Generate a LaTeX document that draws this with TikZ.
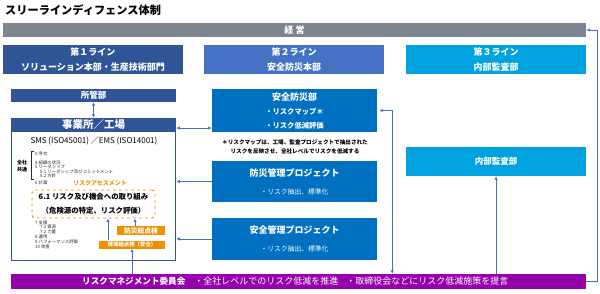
\documentclass[tikz,border=0pt]{standalone}
\usepackage{fontspec}
\setmainfont{Noto Sans CJK JP}
\usetikzlibrary{arrows.meta,positioning,calc}
\definecolor{slate}{RGB}{125,133,145}
\definecolor{navy}{RGB}{47,85,151}
\definecolor{ocean}{RGB}{68,114,196}
\definecolor{deep}{RGB}{0,112,192}
\definecolor{aqua}{RGB}{0,163,224}
\definecolor{amber}{RGB}{237,145,0}
\definecolor{grape}{RGB}{148,0,170}
\definecolor{ink}{RGB}{40,40,40}
\newcommand{\fsz}[2]{\fontsize{#1}{#2}\selectfont}
\tikzset{
  x=1pt,y=-1pt,
  >={Latex[length=3.5pt,width=3.5pt]},
  box/.style={fill=#1,text=white,inner sep=0pt,align=center,font=\fsz{9}{15}\bfseries},
  box/.default=navy,
  chk/.style={fill=amber,text=white,inner sep=0pt,font=\fsz{#1}{#1}\bfseries},
  item/.style={anchor=west,inner sep=0pt,text=ink,font=\fsz{4.4}{5}},
  note/.style={inner sep=0pt,text=black,font=\fsz{5.6}{6}\bfseries},
  link/.style={draw=ocean,line width=0.8pt},
}

\begin{document}
\begin{tikzpicture}
  \useasboundingbox (0,0) rectangle (600,294);
  \node[anchor=west,inner sep=0pt,font=\fsz{11.2}{12}\bfseries] (title) at (5,10) {スリーラインディフェンス体制};

  % top management and the three lines
  \node[box=slate,minimum width=583pt,minimum height=14pt] (keiei) at (294.5,30) {経 営};
  \node[box=navy,minimum width=180pt,minimum height=29pt] (line1) at (93,59.5) {第１ライン\\ソリューション本部・生産技術部門};
  \node[box=ocean,minimum width=180pt,minimum height=29pt] (line2) at (294,59.5) {第２ライン\\安全防災本部};
  \node[box=aqua,minimum width=180pt,minimum height=29pt] (line3) at (496,59.5) {第３ライン\\内部監査部};

  % first line
  \node[box=navy,minimum width=165pt,minimum height=13pt,font=\fsz{8.5}{9}\bfseries] (shokan) at (93.5,95.5) {所管部};
  \node[draw=navy,line width=1.5pt,minimum width=164pt,minimum height=142pt,inner sep=0pt] (site) at (93.5,189.5) {};
  \node[box=navy,minimum width=165pt,minimum height=14pt,font=\fsz{10.5}{11}\bfseries] (sitehead) at (93.5,125) {事業所／工場};
  \node[inner sep=0pt,font=\fsz{8}{9}] (sms) at (94,141) {SMS (ISO45001) ／EMS (ISO14001)};
  \node[inner sep=0pt,align=center,font=\fsz{5}{6.5}\bfseries] (common) at (22,166) {全社\\共通};
  \draw[ink,line width=0.4pt] (34,151.5) -- (31,151.5) -- (31,179.5) -- (34,179.5);
  \foreach \xx/\yy/\t [count=\i] in {35/154/0 序文, 35/163/4 組織の状況, 35/167/5 リーダシップ,
      40/171.5/5.1 リーダシップ及びコミットメント, 40/176/5.2 方針, 35/182.5/6 計画,
      35/222.7/7 支援, 40/227.2/7.1 資源, 40/231.7/7.2 力量, 35/236.7/8 運用,
      35/241.7/9 パフォーマンス評価, 35/246.7/10 改善}
    \node[item] (it\i) at (\xx,\yy) {\t};
  \node[inner sep=0pt,text=amber,font=\fsz{6}{7}\bfseries] (ra) at (100,183) {リスクアセスメント};
  \node[draw=amber,dashed,line width=0.9pt,rounded corners=3pt,minimum width=123pt,minimum height=28pt,
    inner sep=0pt,align=center,font=\fsz{7.4}{14}\bfseries] (risk) at (93.5,204)
    {6.1 リスク及び機会への取り組み\\（危険源の特定、リスク評価）};
  \node[chk=6.8,minimum width=48pt,minimum height=9.5pt] (bcheck) at (141,230.5) {防災総点検};
  \node[chk=5.4,minimum width=66pt,minimum height=8pt] (gcheck) at (132,244.5) {現場総点検（安全）};

  % second line
  \node[box=deep,minimum width=165pt,minimum height=43pt,font=\fsz{7.3}{14}\bfseries] (anzen) at (294.5,110.5)
    {{\fsz{9}{14}安全防災部}\\・リスクマップ＊\\・リスク低減評価};
  \node[note] (note1) at (295,142.5) {＊リスクマップは、工場、監査プロジェクトで抽出された};
  \node[note] (note2) at (295,151) {リスクを反映させ、全社レベルでリスクを低減する};
  \node[box=deep,minimum width=165pt,minimum height=41pt,font=\fsz{6.8}{18}] (bpj) at (294.5,181.5)
    {{\fsz{9}{18}\bfseries 防災管理プロジェクト}\\・リスク抽出、標準化};
  \node[box=deep,minimum width=165pt,minimum height=42pt,font=\fsz{6.8}{18}] (spj) at (294.5,239)
    {{\fsz{9}{18}\bfseries 安全管理プロジェクト}\\・リスク抽出、標準化};

  % third line
  \node[box=aqua,minimum width=180pt,minimum height=29pt,font=\fsz{8.5}{9}\bfseries] (audit) at (496,161.5) {内部監査部};

  % committee
  \node[box=grape,minimum width=575pt,minimum height=15pt] (rmc) at (298.5,281.5) {};
  \node[anchor=west,inner sep=0pt,text=white,font=\fsz{9}{10}] (rmctext) at (82,281.5)
    {{\fsz{8.6}{10}\bfseries リスクマネジメント委員会}\hspace{9pt}・全社レベルでのリスク低減を推進\hspace{8pt}・取締役会などにリスク低減施策を提言};

  % connectors
  \draw[link,<->] (shokan.south) -- (sitehead.north);
  \coordinate (a1) at ([yshift=-17.5pt]anzen.west);
  \draw[link,<->] (a1) -- (a1 -| site.east);
  \draw[link,->] (bpj.west) -- (bpj.west -| site.east);
  \draw[link,->] (spj.west) -- (spj.west -| site.east);
  \coordinate (g1) at ([xshift=-24pt]gcheck.north);
  \draw[link,->] (g1) -- (g1 |- risk.south);
  \coordinate (b1) at ([xshift=-6pt]bcheck.north);
  \draw[link,->] (b1) -- (b1 |- risk.south);
  \draw[link,->] (gcheck.south |- rmc.north) -- (gcheck.south);
  \draw[link,->] (audit.south |- rmc.north) -- (audit.south);
  \draw[link,<->] ([xshift=2pt]anzen.east) -- ++(13,0) coordinate (r1) -- (r1 |- rmc.north);
  \draw[link,->] (rmc.east) -- ++(11,0) |- (keiei.east);
\end{tikzpicture}
\end{document}
